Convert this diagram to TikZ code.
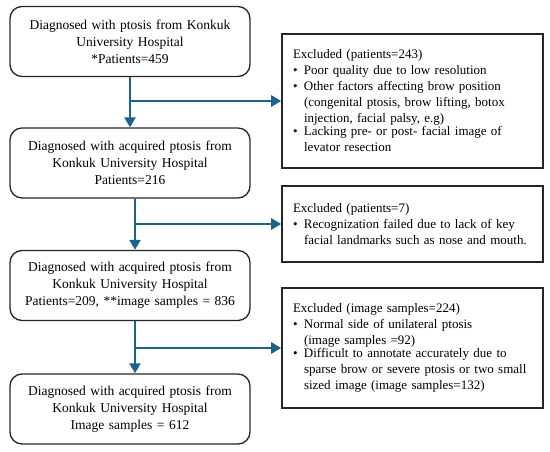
\documentclass[tikz,border=0pt]{standalone}
\usepackage{fontspec}
\setmainfont{Liberation Serif}
\usetikzlibrary{arrows.meta}
\definecolor{flowblue}{RGB}{28,99,140}
\newcommand{\bul}[1]{\par\noindent\makebox[11pt][l]{\textbullet}\parbox[t]{228pt}{\raggedright #1}}

\begin{document}
\begin{tikzpicture}[x=1pt,y=-1pt,
    stage/.style={draw=black!85,line width=1.3pt,rounded corners=12pt,minimum width=240pt,minimum height=70pt,text width=230pt,inner sep=0pt,align=center,font=\fontsize{13.5}{17}\selectfont},
    excl/.style={draw=black!85,line width=1.6pt,text width=239pt,inner xsep=11pt,inner ysep=0pt,align=left,font=\fontsize{13}{16}\selectfont},
    flow/.style={draw=flowblue,line width=2.8pt,-{Triangle[length=10pt,width=11pt]}}]
        \useasboundingbox (0,0) rectangle (550,452);
        % left column
        \node[stage] (dx) at (130,41.5) {Diagnosed with ptosis from Konkuk\\University Hospital\\{}*Patients=459};
        \node[stage] (acq) at (130,163) {Diagnosed with acquired ptosis from\\Konkuk University Hospital\\Patients=216};
        \node[stage] (img) at (130,285.5) {Diagnosed with acquired ptosis from\\Konkuk University Hospital\\Patients=209, **image samples = 836};
        \node[stage] (final) at (130,409) {Diagnosed with acquired ptosis from\\Konkuk University Hospital\\Image samples = 612};
        % right column
        \node[excl,minimum height=134pt] (exA) at (412.5,101) {Excluded (patients=243)\bul{Poor quality due to low resolution}\bul{Other factors affecting brow position\\(congenital ptosis, brow lifting, botox\\injection, facial palsy, e.g)}\bul{Lacking pre- or post- facial image of\\levator resection}};
        \node[excl,minimum height=76pt] (exB) at (412.5,224) {Excluded (patients=7)\bul{Recognization failed due to lack of key\\facial landmarks such as nose and mouth.}};
        \node[excl,minimum height=120pt] (exC) at (412.5,348) {Excluded (image samples=224)\bul{Normal side of unilateral ptosis\\(image samples =92)}\bul{Difficult to annotate accurately due to\\sparse brow or severe ptosis or two small\\sized image (image samples=132)}};
        % arrows
        \coordinate (s1) at (dx.south);
        \coordinate (s2) at ([xshift=5pt]acq.south);
        \coordinate (s3) at ([xshift=5pt]img.south);
        \draw[flow] (s1) -- (s1 |- acq.north);
        \draw[flow] (s1 |- exA.west) -- (exA.west);
        \draw[flow] (s2) -- (s2 |- img.north);
        \draw[flow] (s2 |- exB.west) -- (exB.west);
        \draw[flow] (s3) -- (s3 |- final.north);
        \draw[flow] (s3 |- exC.west) -- (exC.west);
\end{tikzpicture}
\end{document}
